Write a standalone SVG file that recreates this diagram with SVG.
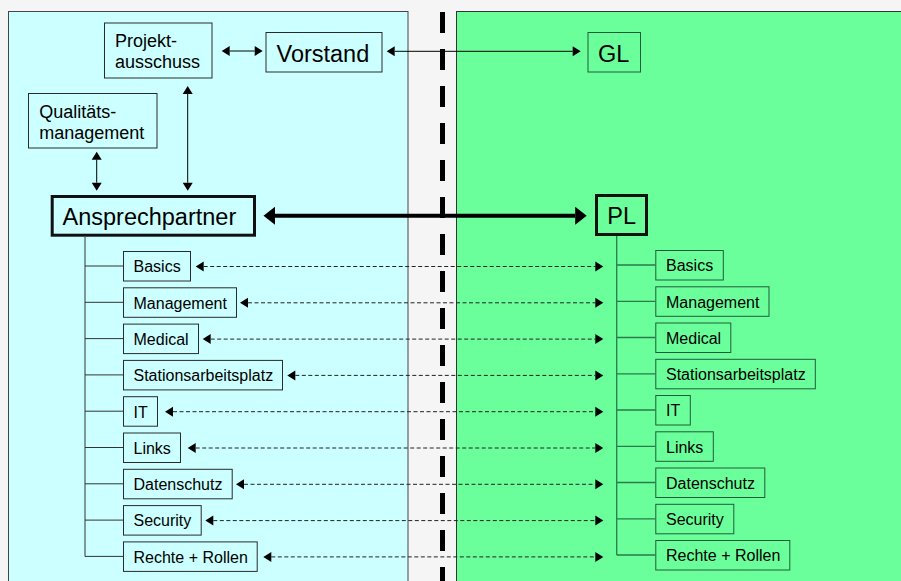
<svg xmlns="http://www.w3.org/2000/svg" width="901" height="581" viewBox="0 0 901 581">
  <defs>
    <style>
      .panelL { fill: #ccffff; stroke: #444; stroke-width: 1; }
      .panelR { fill: #6bff9b; stroke: #333; stroke-width: 1; }
      .sep { stroke: #000; stroke-width: 5; stroke-dasharray: 21 16; }
      .boxL { fill: #ccffff; stroke: #2a2a2a; stroke-width: 1; }
      .boxR { fill: #6bff9b; stroke: #1f5c37; stroke-width: 1; }
      .boxBold { stroke: #111; stroke-width: 3; }
      .big { font-family: "Liberation Sans", Arial, sans-serif; font-size: 23.5px; fill: #000; }
      .mid { font-family: "Liberation Sans", Arial, sans-serif; font-size: 18px; fill: #000; }
      .small { font-family: "Liberation Sans", Arial, sans-serif; font-size: 16px; fill: #000; }
      .treeL { stroke: #333; stroke-width: 1; fill: none; }
      .treeR { stroke: #2a7a4a; stroke-width: 1.3; fill: none; }
      .arr { stroke: #000; stroke-width: 1; fill: none; marker-start: url(#ah); marker-end: url(#ah); }
      .dash { stroke: #222; stroke-width: 1; fill: none; stroke-dasharray: 4 2.5; marker-start: url(#ah); marker-end: url(#ah); }
      .thick { stroke: #000; stroke-width: 4; fill: none; marker-start: url(#ahBig); marker-end: url(#ahBig); }
    </style>
    <marker id="ah" markerUnits="userSpaceOnUse" markerWidth="9" markerHeight="11" refX="0" refY="5" orient="auto-start-reverse" overflow="visible">
      <path d="M0,0 L8,5 L0,10 Z" fill="#000"/>
    </marker>
    <marker id="ahBig" markerUnits="userSpaceOnUse" markerWidth="13" markerHeight="19" refX="0" refY="9" orient="auto-start-reverse" overflow="visible">
      <path d="M0,0 L11.5,9 L0,18 Z" fill="#000"/>
    </marker>
  </defs>

  <!-- background and the two organisation panels -->
  <rect x="0" y="0" width="901" height="581" fill="#f5f5f5"/>
  <rect class="panelL" x="8.5" y="11.5" width="399.5" height="580"/>
  <rect class="panelR" x="456.5" y="11.5" width="460" height="580"/>
  <line class="sep" x1="442.5" y1="12" x2="442.5" y2="581"/>

  <!-- connectors -->
  <g id="connectors">
    <line class="arr" x1="229.7" y1="51" x2="254.7" y2="51"/>
    <line class="arr" x1="394.7" y1="51.3" x2="572.7" y2="51.3"/>
    <line class="arr" x1="96.7" y1="159.7" x2="96.7" y2="182.7"/>
    <line class="arr" x1="187.7" y1="94" x2="187.7" y2="182.7"/>
    <line class="thick" x1="275" y1="215.7" x2="575.2" y2="215.7"/>

    <!-- left tree -->
    <path class="treeL" d="M85,237 V556.4 M85,266 H123 M85,302.3 H123 M85,338.6 H123 M85,374.9 H123 M85,411.2 H123 M85,447.5 H123 M85,483.8 H123 M85,520.1 H123 M85,556.4 H123"/>
    <!-- right tree -->
    <path class="treeR" d="M616.7,236 V555 M616.7,265 H655.3 M616.7,301.3 H655.3 M616.7,337.5 H655.3 M616.7,373.8 H655.3 M616.7,410 H655.3 M616.7,446.3 H655.3 M616.7,482.5 H655.3 M616.7,518.8 H655.3 M616.7,555 H655.3"/>

    <!-- dashed links between matching topics -->
    <line class="dash" x1="203.7" y1="266.5" x2="595.3" y2="266.5"/>
    <line class="dash" x1="248" y1="302.8" x2="595.3" y2="302.8"/>
    <line class="dash" x1="210.7" y1="339.1" x2="595.3" y2="339.1"/>
    <line class="dash" x1="295.3" y1="375.4" x2="595.3" y2="375.4"/>
    <line class="dash" x1="173" y1="411.7" x2="595.3" y2="411.7"/>
    <line class="dash" x1="195.7" y1="448" x2="595.3" y2="448"/>
    <line class="dash" x1="244" y1="484.3" x2="595.3" y2="484.3"/>
    <line class="dash" x1="213.3" y1="520.6" x2="595.3" y2="520.6"/>
    <line class="dash" x1="271.3" y1="556.9" x2="595.3" y2="556.9"/>
  </g>

  <!-- top level nodes -->
  <g id="projektausschuss">
    <rect class="boxL" x="104.5" y="23" width="107.5" height="55"/>
    <text class="mid" x="115" y="47">Projekt-</text>
    <text class="mid" x="115" y="68">ausschuss</text>
  </g>
  <g id="vorstand">
    <rect class="boxL" x="266" y="32.5" width="116" height="39.5"/>
    <text class="big" x="276.5" y="62.3">Vorstand</text>
  </g>
  <g id="gl">
    <rect class="boxR" x="588" y="32.5" width="52.5" height="39.5"/>
    <text class="big" x="598" y="62.3">GL</text>
  </g>
  <g id="qualitaetsmanagement">
    <rect class="boxL" x="28.5" y="93.5" width="128.5" height="54.5"/>
    <text class="mid" x="39.3" y="117.6">Qualitäts-</text>
    <text class="mid" x="39.3" y="138.6">management</text>
  </g>
  <g id="ansprechpartner">
    <rect class="boxL boxBold" x="52.2" y="196.5" width="202.3" height="38.7"/>
    <text class="big" x="62.5" y="225">Ansprechpartner</text>
  </g>
  <g id="pl">
    <rect class="boxR boxBold" x="596.5" y="195.5" width="50" height="39"/>
    <text class="big" x="607.3" y="224.3">PL</text>
  </g>

  <!-- topic nodes, left side -->
  <g id="l-basics"><rect class="boxL" x="123.5" y="251.5" width="67" height="29.5"/><text class="small" x="133.5" y="272.3">Basics</text></g>
  <g id="l-management"><rect class="boxL" x="123.5" y="287.8" width="113" height="29.5"/><text class="small" x="133.5" y="308.6">Management</text></g>
  <g id="l-medical"><rect class="boxL" x="123.5" y="324.1" width="75" height="29.5"/><text class="small" x="133.5" y="344.9">Medical</text></g>
  <g id="l-stationsarbeitsplatz"><rect class="boxL" x="123.5" y="360.4" width="159" height="29.5"/><text class="small" x="133.5" y="381.2">Stationsarbeitsplatz</text></g>
  <g id="l-it"><rect class="boxL" x="123.5" y="396.7" width="34" height="29.5"/><text class="small" x="133.5" y="417.5">IT</text></g>
  <g id="l-links"><rect class="boxL" x="123.5" y="433" width="57" height="29.5"/><text class="small" x="133.5" y="453.8">Links</text></g>
  <g id="l-datenschutz"><rect class="boxL" x="123.5" y="469.3" width="108.7" height="29.5"/><text class="small" x="133.5" y="490.1">Datenschutz</text></g>
  <g id="l-security"><rect class="boxL" x="123.5" y="505.6" width="77.7" height="29.5"/><text class="small" x="133.5" y="526.4">Security</text></g>
  <g id="l-rechte-rollen"><rect class="boxL" x="123.5" y="541.9" width="133.7" height="29.5"/><text class="small" x="133.5" y="562.7">Rechte + Rollen</text></g>

  <!-- topic nodes, right side -->
  <g id="r-basics"><rect class="boxR" x="655.8" y="250.5" width="67.5" height="29.5"/><text class="small" x="666" y="271.3">Basics</text></g>
  <g id="r-management"><rect class="boxR" x="655.8" y="286.8" width="113.2" height="29.5"/><text class="small" x="666" y="307.6">Management</text></g>
  <g id="r-medical"><rect class="boxR" x="655.8" y="323" width="75" height="29.5"/><text class="small" x="666" y="343.8">Medical</text></g>
  <g id="r-stationsarbeitsplatz"><rect class="boxR" x="655.8" y="359.3" width="159.5" height="29.5"/><text class="small" x="666" y="380.1">Stationsarbeitsplatz</text></g>
  <g id="r-it"><rect class="boxR" x="655.8" y="395.5" width="34.5" height="29.5"/><text class="small" x="666" y="416.3">IT</text></g>
  <g id="r-links"><rect class="boxR" x="655.8" y="431.8" width="57.5" height="29.5"/><text class="small" x="666" y="452.6">Links</text></g>
  <g id="r-datenschutz"><rect class="boxR" x="655.8" y="468" width="109" height="29.5"/><text class="small" x="666" y="488.8">Datenschutz</text></g>
  <g id="r-security"><rect class="boxR" x="655.8" y="504.3" width="78" height="29.5"/><text class="small" x="666" y="525.1">Security</text></g>
  <g id="r-rechte-rollen"><rect class="boxR" x="655.8" y="540.5" width="134" height="29.5"/><text class="small" x="666" y="561.3">Rechte + Rollen</text></g>
</svg>
